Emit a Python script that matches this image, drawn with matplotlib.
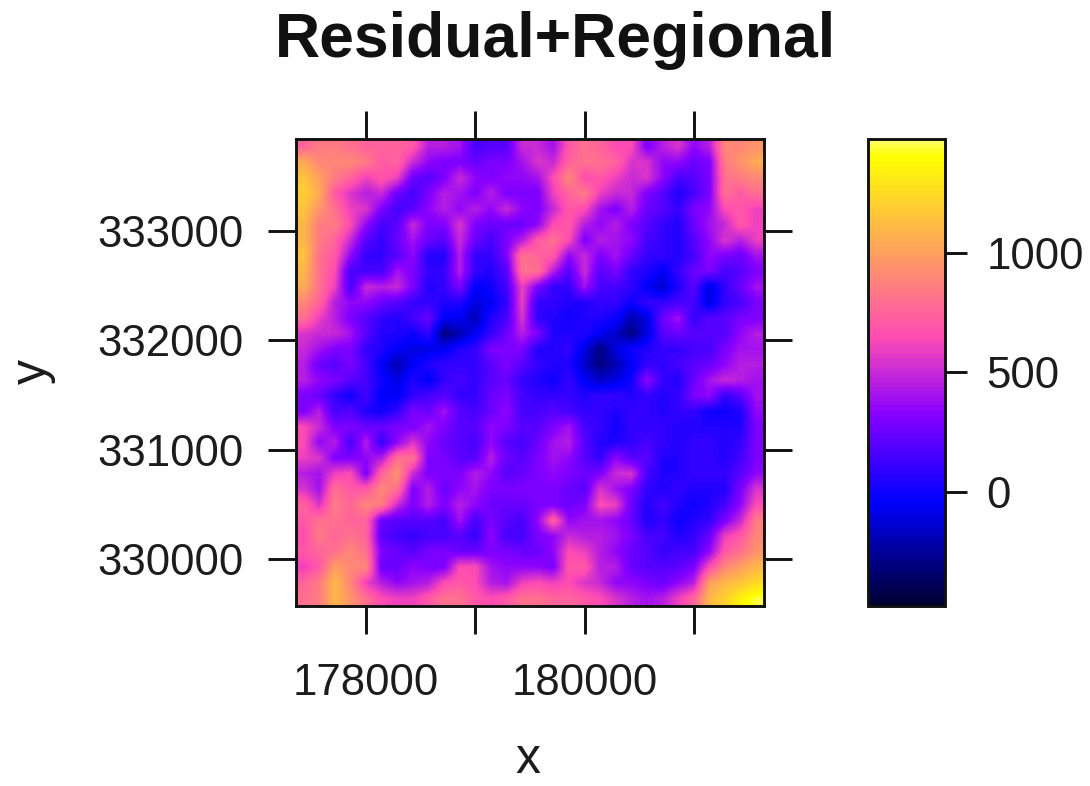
import numpy as np
import matplotlib
matplotlib.use("Agg")
import matplotlib.pyplot as plt
from matplotlib.colors import ListedColormap, Normalize

plt.rcParams['font.family'] = ['Liberation Sans', 'DejaVu Sans']

title = "Residual+Regional"
x_ticks = [178000, 179000, 180000, 181000]
x_ticklabels = ["178000", "", "180000", ""]
y_ticks = [330000, 331000, 332000, 333000]
y_ticklabels = ["330000", "331000", "332000", "333000"]
cbar_ticks = [0, 500, 1000]
x_range = (177361, 181635)
y_range = (329571, 333840)
value_range = (-477, 1477)

# Residual+Regional values, north row first, west column first
z_rows = [
[750,850,850,800,750,750,750,700,450,450,400,150,200,200,500,500,400,700,800,750,650,650,300,450,550,350,450,900,900,950],
[1050,900,900,900,850,700,750,500,350,300,300,250,300,300,400,550,500,750,800,800,750,550,550,350,350,250,300,850,950,1050],
[1150,1000,850,750,600,700,600,250,200,300,500,350,300,350,350,400,650,900,650,700,600,500,550,350,150,200,300,800,850,900],
[1200,1050,700,550,450,500,250,150,300,450,400,300,450,300,300,300,600,750,850,600,500,500,300,200,50,150,300,800,700,800],
[1150,950,800,600,550,300,150,200,350,450,350,450,350,500,350,300,500,700,650,400,300,450,250,200,100,300,350,650,700,600],
[1100,850,850,650,350,150,200,500,300,300,550,300,250,250,250,350,650,700,450,350,450,300,200,100,50,250,400,500,700,600],
[1100,850,750,500,200,100,250,400,250,200,500,250,150,300,450,700,800,650,300,450,400,350,150,100,50,200,350,550,450,600],
[1150,800,700,350,100,100,200,350,50,50,450,100,100,300,800,750,700,350,500,300,400,250,100,100,50,150,350,300,250,400],
[1100,800,650,150,150,150,400,300,100,100,450,100,50,200,800,800,450,200,500,200,300,100,50,-50,100,250,300,150,200,300],
[1050,800,600,150,500,450,500,300,50,100,300,-50,0,150,600,300,100,100,400,150,150,100,-50,-150,50,200,-100,100,250,400],
[900,750,450,350,350,250,200,100,100,50,50,-100,-50,100,600,100,100,50,50,100,100,0,100,100,150,150,-100,100,150,300],
[800,600,450,300,200,100,50,150,250,-50,-50,-200,50,150,550,100,50,0,50,50,0,-200,-100,250,400,100,200,200,300,300],
[550,500,500,400,200,50,50,0,100,-300,-200,-50,100,250,450,300,50,50,50,-50,-150,-300,-100,200,250,200,200,200,350,450],
[500,400,300,300,100,50,-50,-100,-100,-50,50,100,300,300,300,50,50,100,-100,-300,-100,0,50,100,100,150,150,300,400,400],
[450,250,200,300,150,-50,-200,-50,50,100,100,100,200,300,200,100,50,50,-150,-300,-200,-50,100,100,150,200,250,350,450,450],
[450,350,300,200,150,0,-100,50,-50,100,150,100,200,250,100,50,0,100,-50,-150,-100,0,350,100,50,250,400,500,450,400],
[300,250,100,0,150,-50,-50,100,150,200,100,100,250,300,150,100,100,100,50,100,100,50,100,50,100,300,350,100,200,400],
[300,450,150,200,50,0,100,300,250,400,200,150,250,350,150,150,200,150,100,100,50,100,100,50,100,100,0,0,50,350],
[650,500,300,300,250,250,300,300,400,300,200,200,350,300,200,200,300,400,150,100,0,100,100,100,50,50,50,50,50,300],
[650,350,450,150,450,100,350,550,350,250,200,150,350,200,150,250,400,450,200,50,50,100,150,100,50,100,100,50,100,300],
[600,550,300,300,350,450,800,800,300,300,200,200,450,250,200,300,400,350,200,100,350,200,200,50,50,100,100,50,150,300],
[450,400,600,650,300,750,950,500,300,300,300,450,350,200,250,300,350,300,250,300,500,550,150,50,50,100,100,100,200,350],
[550,400,800,700,700,900,800,300,450,250,350,400,300,300,300,300,300,250,200,550,400,300,100,50,100,50,50,50,300,550],
[750,550,850,750,900,850,500,300,450,300,450,350,250,250,250,300,300,250,300,650,600,250,50,150,50,0,50,150,350,650],
[700,800,800,750,750,250,200,200,200,150,400,150,300,200,150,350,750,350,400,400,350,250,50,100,0,50,100,300,500,850],
[650,850,750,800,750,200,150,100,150,150,200,100,350,150,150,300,350,500,450,450,400,300,150,150,50,100,250,600,700,900],
[700,750,800,900,800,300,250,200,300,300,250,250,300,300,250,250,350,650,600,450,350,250,200,100,150,150,350,700,800,950],
[600,700,1000,900,900,250,250,350,300,300,650,650,400,350,350,350,300,700,700,450,450,250,200,200,200,300,650,900,1000,1100],
[750,850,1100,900,600,450,350,400,450,650,700,650,450,400,600,650,600,650,550,500,350,350,300,250,350,450,1000,1100,1150,1250],
[800,850,1100,950,800,650,600,600,700,800,800,700,650,700,800,800,750,750,700,650,550,450,400,450,600,750,1100,1200,1350,1450],
]


def bpy_colors(n=100, cutoff=0.1):
    i = np.linspace(0.5 * cutoff, 1 - 0.5 * cutoff, n)
    r = np.where(i < .25, 0, np.where(i < .57, i / .32 - .78125, 1))
    g = np.where(i < .42, 0, np.where(i < .92, 2 * i - .84, 1))
    b = np.where(i < .25, 4 * i, np.where(i < .42, 1,
                 np.where(i < .92, -2 * i + 1.84, i / .08 - 11.5)))
    return np.clip(np.c_[r, g, b], 0, 1)


W, H = 1090, 786
ink = "#1c1c1c"
fig = plt.figure(figsize=(W / 100, H / 100), dpi=100)


def rect(l, t, r, b):
    return [l / W, 1 - b / H, (r - l) / W, (b - t) / H]


ax = fig.add_axes(rect(296, 139, 764, 606))
cmap = ListedColormap(bpy_colors())
norm = Normalize(*value_range)
z = np.array(z_rows, dtype=float)
im = ax.imshow(z, cmap=cmap, norm=norm, origin='upper', aspect='auto',
               interpolation='bilinear',
               extent=(x_range[0], x_range[1], y_range[0], y_range[1]))
ax.set_xlim(*x_range)
ax.set_ylim(*y_range)
ax.set_xticks(x_ticks, x_ticklabels)
ax.set_yticks(y_ticks, y_ticklabels)
ax.tick_params(axis='both', direction='out', length=20, width=2.1, labelsize=31.5,
               top=True, right=True, color="#111111", labelcolor=ink)
ax.tick_params(axis='x', pad=21)
ax.tick_params(axis='y', pad=18)
for s in ax.spines.values():
    s.set_linewidth(2.1)
    s.set_color("#111111")

cax = fig.add_axes(rect(868, 139, 945, 606))
cb = fig.colorbar(im, cax=cax, ticks=cbar_ticks)
cb.ax.tick_params(length=16, width=2.1, labelsize=31.5, color="#111111", labelcolor=ink, pad=14)
cb.outline.set_linewidth(2.1)
cb.outline.set_edgecolor("#111111")

fig.text(555 / W, 1 - 40 / H, title, ha='center', va='center', fontsize=45,
         fontweight='bold', color="#111111")
fig.text(528 / W, 1 - 760 / H, "x", ha='center', va='center', fontsize=36, color=ink)
fig.text(33 / W, 1 - 372 / H, "y", ha='center', va='center', fontsize=36, color=ink, rotation=90)

fig.savefig("out.png", dpi=100)
